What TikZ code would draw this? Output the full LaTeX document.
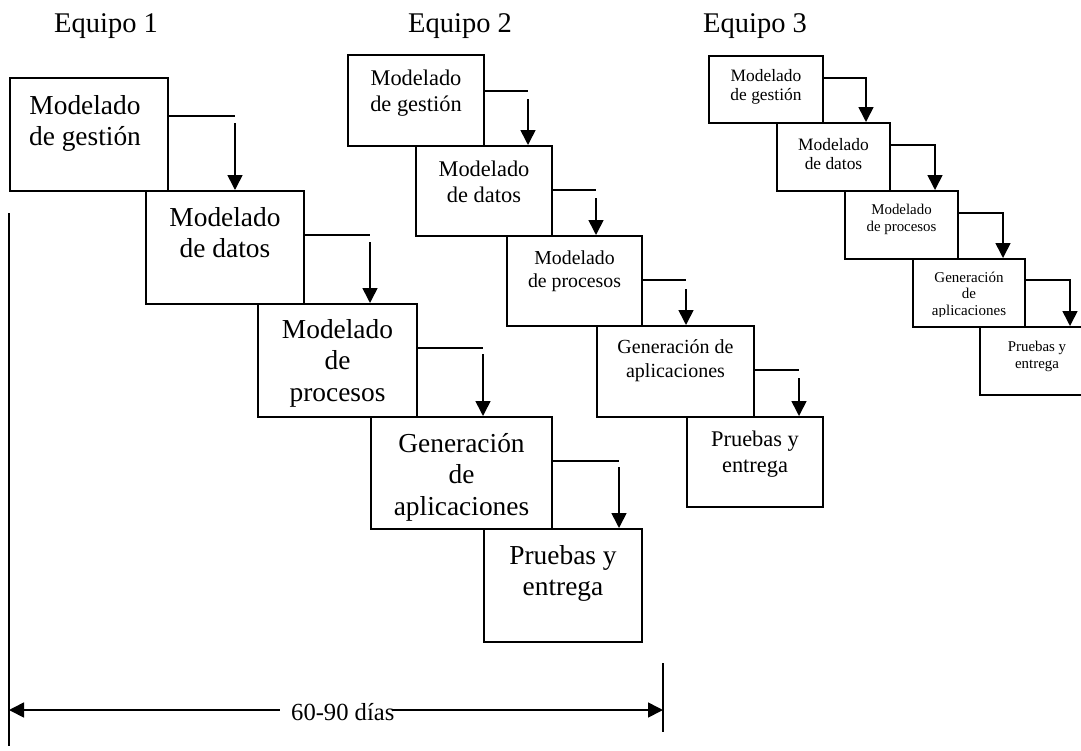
\documentclass[tikz,border=0pt]{standalone}
\usepackage{fontspec}
\setmainfont{Liberation Serif}
\usetikzlibrary{arrows.meta}
\begin{document}
\begin{tikzpicture}[x=1pt,y=-1pt,
  box/.style={draw, line width=2pt, inner sep=0pt, anchor=north west},
  lbl/.style={anchor=north, inner sep=0pt, align=center},
  link/.style={line width=1.6pt},
  arr/.style={line width=1.6pt, -{Triangle[length=15pt,width=15pt]}},
  ttl/.style={anchor=base west, inner sep=0pt, font=\fontsize{28.5}{33}\selectfont},
  fA/.style={font=\fontsize{27.4}{31.5}\selectfont},
  fB/.style={font=\fontsize{22.4}{26}\selectfont},
  fBs/.style={font=\fontsize{19.8}{23}\selectfont},
  fBt/.style={font=\fontsize{20}{24}\selectfont},
  fC/.style={font=\fontsize{17.4}{19.5}\selectfont},
  fCs/.style={font=\fontsize{14.9}{17}\selectfont},
  fCt/.style={font=\fontsize{15}{16.5}\selectfont},
]
\useasboundingbox (0,0) rectangle (1081,750);
\clip (0,0) rectangle (1081,750);

% ---------- titles ----------
\node[ttl] (e1) at (54,32) {Equipo 1};
\node[ttl] (e2) at (408,32) {Equipo 2};
\node[ttl] (e3) at (703,32) {Equipo 3};

% ---------- team 1 ----------
\node[box, minimum width=158pt, minimum height=113pt] (a1) at (9,77) {};
\node[box, minimum width=158pt, minimum height=113pt] (a2) at (145,190) {};
\node[box, minimum width=159pt, minimum height=113pt] (a3) at (257,303) {};
\node[box, minimum width=181pt, minimum height=112pt] (a4) at (370,416) {};
\node[box, minimum width=158pt, minimum height=113pt] (a5) at (483,528) {};

\node[lbl,fA] (a1t) at ([xshift=-4pt,yshift=-15pt]a1.north) {\strut Modelado\\de gestión};
\node[lbl,fA] (a2t) at ([yshift=-14pt]a2.north) {\strut Modelado\\de datos};
\node[lbl,fA] (a3t) at ([yshift=-13pt]a3.north) {\strut Modelado\\de\\procesos};
\node[lbl,fA] (a4t) at ([yshift=-14pt]a4.north) {\strut Generación\\de\\aplicaciones};
\node[lbl,fA] (a5t) at ([yshift=-14pt]a5.north) {\strut Pruebas y\\entrega};

\coordinate (a1h) at (235,116); \coordinate (a1v) at (235,123);
\coordinate (a2h) at (370,235); \coordinate (a2v) at (370,242);
\coordinate (a3h) at (483,348); \coordinate (a3v) at (483,354);
\coordinate (a4h) at (619,461); \coordinate (a4v) at (619,467);
\draw[link] (a1.east |- a1h) -- (a1h);
\draw[arr] (a1v) -- (a1v |- a2.north);
\draw[link] (a2.east |- a2h) -- (a2h);
\draw[arr] (a2v) -- (a2v |- a3.north);
\draw[link] (a3.east |- a3h) -- (a3h);
\draw[arr] (a3v) -- (a3v |- a4.north);
\draw[link] (a4.east |- a4h) -- (a4h);
\draw[arr] (a4v) -- (a4v |- a5.north);

% ---------- team 2 ----------
\node[box, minimum width=136pt, minimum height=91pt] (b1) at (347,54) {};
\node[box, minimum width=136pt, minimum height=90pt] (b2) at (415,145) {};
\node[box, minimum width=135pt, minimum height=90pt] (b3) at (506,235) {};
\node[box, minimum width=157pt, minimum height=91pt] (b4) at (596,325) {};
\node[box, minimum width=136pt, minimum height=90pt] (b5) at (686,416) {};

\node[lbl,fB]  (b1t) at ([yshift=-12.8pt]b1.north) {\strut Modelado\\de gestión};
\node[lbl,fB]  (b2t) at ([yshift=-12.8pt]b2.north) {\strut Modelado\\de datos};
\node[lbl,fBs] (b3t) at ([yshift=-12.9pt]b3.north) {\strut Modelado\\de procesos};
\node[lbl,fBt] (b4t) at ([yshift=-11.2pt]b4.north) {\strut Generación de\\aplicaciones};
\node[lbl,fB]  (b5t) at ([yshift=-11.8pt]b5.north) {\strut Pruebas y\\entrega};

\coordinate (b1h) at (528,91);  \coordinate (b1v) at (528,99);
\coordinate (b2h) at (596,190); \coordinate (b2v) at (596,198);
\coordinate (b3h) at (686,280); \coordinate (b3v) at (686,289);
\coordinate (b4h) at (799,370); \coordinate (b4v) at (799,378);
\draw[link] (b1.east |- b1h) -- (b1h);
\draw[arr] (b1v) -- (b1v |- b2.north);
\draw[link] (b2.east |- b2h) -- (b2h);
\draw[arr] (b2v) -- (b2v |- b3.north);
\draw[link] (b3.east |- b3h) -- (b3h);
\draw[arr] (b3v) -- (b3v |- b4.north);
\draw[link] (b4.east |- b4h) -- (b4h);
\draw[arr] (b4v) -- (b4v |- b5.north);

% ---------- team 3 ----------
\node[box, minimum width=114pt, minimum height=67pt] (c1) at (708,55) {};
\node[box, minimum width=113pt, minimum height=68pt] (c2) at (776,122) {};
\node[box, minimum width=113pt, minimum height=68pt] (c3) at (844,190) {};
\node[box, minimum width=112pt, minimum height=68pt] (c4) at (912,258) {};
\node[box, minimum width=115pt, minimum height=68pt] (c5) at (979,326) {};

\node[lbl,fC]  (c1t) at ([yshift=-12.4pt]c1.north) {\strut Modelado\\de gestión};
\node[lbl,fC]  (c2t) at ([yshift=-14.4pt]c2.north) {\strut Modelado\\de datos};
\node[lbl,fCs] (c3t) at ([yshift=-12.1pt]c3.north) {\strut Modelado\\de procesos};
\begin{scope}
  \clip (c4.north west) rectangle ([yshift=12pt]c4.south east);
  \node[lbl,fCt] (c4t) at ([yshift=-12.5pt]c4.north) {\strut Generación\\de\\aplicaciones};
\end{scope}
\node[lbl,fCs] (c5t) at ([xshift=-0.5pt,yshift=-13.1pt]c5.north) {\strut Pruebas y\\entrega};

\coordinate (c1h) at (866,78);
\coordinate (c2h) at (935,145);
\coordinate (c3h) at (1003,213);
\coordinate (c4h) at (1070,280);
\draw[arr] (c1.east |- c1h) -| (c1h |- c2.north);
\draw[arr] (c2.east |- c2h) -| (c2h |- c3.north);
\draw[arr] (c3.east |- c3h) -| (c3h |- c4.north);
\draw[arr] (c4.east |- c4h) -| (c4h |- c5.north);

% ---------- time span ----------
\coordinate (lt) at (9,213);   \coordinate (lb) at (9,746);
\coordinate (rt) at (663,663); \coordinate (rb) at (663,732);
\coordinate (gl) at (280,710); \coordinate (gr) at (392,710);
\draw[link] (lt) -- (lb);
\draw[link] (rt) -- (rb);
\draw[line width=1.6pt, {Triangle[length=15pt,width=15pt]}-] (lt |- gl) -- (gl);
\draw[line width=1.6pt, -{Triangle[length=15pt,width=15pt]}] (gr) -- (rt |- gr);
\node[anchor=base west, inner sep=0pt, font=\fontsize{24.6}{28}\selectfont] (span) at (291,720) {60-90 días};
\end{tikzpicture}
\end{document}
